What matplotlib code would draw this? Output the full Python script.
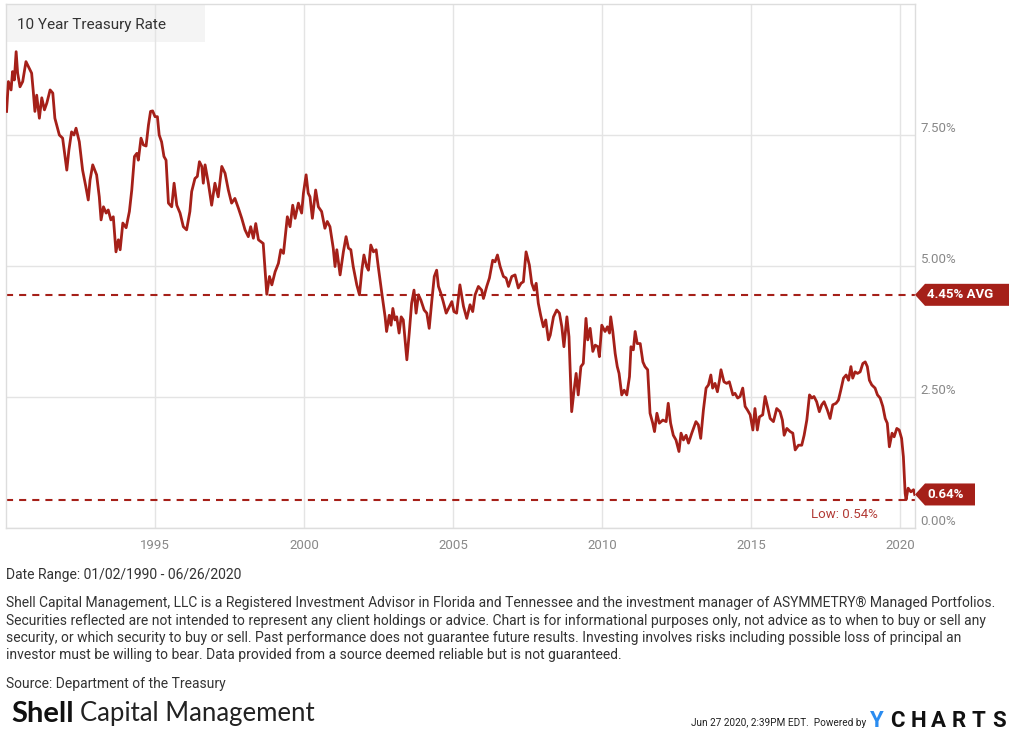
import matplotlib
matplotlib.use("Agg")
import matplotlib.pyplot as plt
import matplotlib.transforms as mtransforms
from matplotlib.patches import Polygon, Rectangle

# 10 year treasury rate (decimal year offset from 1990, percent)
year_offset = [
    0.02, 0.08, 0.17, 0.22, 0.28, 0.34, 0.39, 0.47, 0.56, 0.67, 0.78, 0.86, 0.92, 0.97,
    1.03, 1.12, 1.20, 1.29, 1.37, 1.48, 1.57, 1.64, 1.79, 1.90, 2.04, 2.11, 2.20, 2.28,
    2.35, 2.46, 2.57, 2.68, 2.76, 2.82, 2.91, 3.04, 3.13, 3.19, 3.27, 3.36, 3.43, 3.52,
    3.60, 3.69, 3.77, 3.83, 3.92, 4.03, 4.14, 4.22, 4.31, 4.39, 4.44, 4.53, 4.61, 4.70,
    4.78, 4.85, 4.92, 5.00, 5.08, 5.14, 5.22, 5.30, 5.37, 5.45, 5.56, 5.64, 5.73, 5.84,
    5.95, 6.06, 6.17, 6.23, 6.34, 6.42, 6.49, 6.57, 6.62, 6.68, 6.79, 6.90, 7.01, 7.12,
    7.24, 7.35, 7.46, 7.57, 7.68, 7.80, 7.91, 8.02, 8.13, 8.21, 8.30, 8.38, 8.47, 8.63,
    8.75, 8.84, 8.92, 9.03, 9.14, 9.22, 9.31, 9.44, 9.53, 9.62, 9.70, 9.81, 9.92, 9.98,
    10.07, 10.14, 10.20, 10.28, 10.39, 10.48, 10.59, 10.70, 10.78, 10.87, 10.98, 11.04,
    11.10, 11.21, 11.32, 11.41, 11.49, 11.57, 11.65, 11.77, 11.86, 11.94, 12.01, 12.10,
    12.16, 12.24, 12.33, 12.42, 12.49, 12.61, 12.72, 12.77, 12.86, 12.92, 12.98, 13.05,
    13.11, 13.19, 13.26, 13.33, 13.45, 13.53, 13.61, 13.69, 13.76, 13.84, 13.92, 14.03,
    14.12, 14.20, 14.29, 14.37, 14.45, 14.51, 14.59, 14.67, 14.77, 14.88, 14.96, 15.03,
    15.12, 15.23, 15.35, 15.46, 15.57, 15.66, 15.74, 15.85, 15.96, 16.02, 16.13, 16.22,
    16.33, 16.41, 16.49, 16.58, 16.69, 16.78, 16.86, 16.97, 17.08, 17.19, 17.28, 17.36,
    17.45, 17.56, 17.64, 17.72, 17.79, 17.86, 17.94, 18.03, 18.11, 18.20, 18.26, 18.37,
    18.48, 18.57, 18.65, 18.72, 18.82, 18.89, 18.98, 19.06, 19.13, 19.20, 19.29, 19.37,
    19.46, 19.52, 19.60, 19.69, 19.77, 19.86, 19.91, 19.99, 20.10, 20.18, 20.25, 20.29,
    20.36, 20.44, 20.51, 20.57, 20.66, 20.74, 20.83, 20.92, 20.97, 21.05, 21.11, 21.18,
    21.28, 21.37, 21.44, 21.53, 21.61, 21.70, 21.76, 21.84, 21.92, 22.04, 22.15, 22.22,
    22.30, 22.39, 22.48, 22.58, 22.65, 22.73, 22.82, 22.90, 23.01, 23.15, 23.23, 23.31,
    23.40, 23.49, 23.57, 23.65, 23.71, 23.79, 23.87, 23.94, 23.99, 24.09, 24.18, 24.27,
    24.39, 24.46, 24.55, 24.63, 24.72, 24.80, 24.88, 24.97, 25.06, 25.13, 25.21, 25.28,
    25.39, 25.47, 25.55, 25.64, 25.75, 25.86, 25.97, 26.05, 26.11, 26.20, 26.31, 26.40,
    26.48, 26.59, 26.70, 26.78, 26.87, 26.96, 27.04, 27.11, 27.20, 27.29, 27.37, 27.45,
    27.56, 27.65, 27.74, 27.85, 27.93, 28.01, 28.10, 28.19, 28.27, 28.35, 28.41, 28.49,
    28.57, 28.66, 28.75, 28.83, 28.90, 28.97, 29.05, 29.16, 29.24, 29.33, 29.42, 29.50,
    29.57, 29.64, 29.73, 29.80, 29.89, 29.97, 30.05, 30.11, 30.17, 30.20, 30.27, 30.36,
    30.45, 30.49,
]
rate = [
    7.95, 8.52, 8.36, 8.71, 8.55, 9.09, 8.68, 8.42, 8.52, 8.90, 8.77, 8.68, 8.30, 7.95,
    8.26, 7.82, 8.21, 7.98, 8.11, 8.36, 8.30, 7.82, 7.50, 7.44, 6.83, 7.21, 7.56, 7.50,
    7.63, 7.37, 6.83, 6.51, 6.26, 6.64, 6.93, 6.74, 6.32, 5.88, 6.13, 6.01, 6.07, 5.88,
    5.94, 5.27, 5.50, 5.31, 5.82, 5.73, 6.04, 6.45, 7.09, 7.15, 7.02, 7.44, 7.31, 7.29,
    7.69, 7.95, 7.96, 7.85, 7.85, 7.50, 7.37, 7.09, 7.02, 6.20, 6.13, 6.58, 6.16, 6.01,
    5.75, 5.69, 6.04, 6.42, 6.67, 6.71, 6.99, 6.90, 6.58, 6.93, 6.58, 6.16, 6.58, 6.32,
    6.90, 6.77, 6.45, 6.20, 6.29, 6.10, 5.91, 5.69, 5.56, 5.75, 5.53, 5.81, 5.50, 5.43,
    4.46, 4.80, 4.64, 4.89, 5.05, 5.31, 5.24, 5.94, 5.75, 6.16, 5.91, 6.20, 6.01, 6.39,
    6.74, 6.39, 6.32, 5.91, 6.45, 6.13, 6.04, 5.72, 5.85, 5.75, 5.34, 4.99,
    5.31, 4.83, 5.27, 5.56, 5.34, 5.31, 4.99, 4.64, 4.45, 4.92, 5.21, 4.99,
    4.92, 5.40, 5.27, 5.31, 4.99, 4.48, 4.03, 3.75, 4.06, 3.87, 4.19, 3.97,
    4.03, 3.72, 4.03, 3.97, 3.21, 3.72, 4.29, 4.54, 4.10, 4.45, 4.35, 4.16,
    4.10, 3.81, 4.35, 4.80, 4.92, 4.61, 4.48, 4.32, 4.10, 4.23, 4.32, 4.13,
    4.10, 4.64, 4.23, 4.00, 4.26, 4.13, 4.45, 4.61, 4.54, 4.38, 4.61, 4.77,
    5.11, 5.08, 5.21, 4.99, 4.80, 4.77, 4.61, 4.80, 4.83, 4.58, 4.67, 4.70,
    5.27, 5.02, 4.67, 4.54, 4.67, 4.29, 4.06, 3.84, 3.97, 3.59, 3.68, 4.03,
    4.16, 4.10, 3.84, 3.46, 4.03, 3.65, 2.22, 2.63, 2.95, 2.54, 3.08, 3.14,
    4.00, 3.59, 3.81, 3.37, 3.49, 3.46, 3.27, 3.87, 3.75, 3.84, 3.72, 4.03,
    3.75, 3.33, 3.08, 2.95, 2.54, 2.63, 2.54, 2.89, 3.46, 3.40, 3.75, 3.52,
    3.52, 3.17, 3.08, 3.02, 2.19, 2.00, 1.84, 2.19, 2.00, 2.06, 2.03, 2.38,
    2.00, 1.77, 1.68, 1.46, 1.81, 1.68, 1.77, 1.62, 1.81, 2.03, 1.97, 1.71,
    2.25, 2.67, 2.73, 2.92, 2.67, 2.76, 2.60, 2.82, 3.02, 2.79, 2.76, 2.79,
    2.54, 2.57, 2.48, 2.51, 2.67, 2.32, 2.25, 2.16, 1.87, 2.28, 1.87, 2.12,
    2.16, 2.51, 2.32, 2.09, 2.03, 2.28, 2.22, 2.06, 1.77, 1.90, 1.84, 1.81,
    1.49, 1.58, 1.58, 1.77, 2.06, 2.54, 2.48, 2.51, 2.41, 2.22, 2.35, 2.41,
    2.25, 2.09, 2.35, 2.38, 2.44, 2.63, 2.86, 2.92, 2.82, 3.08, 2.86, 2.98,
    2.95, 2.98, 3.14, 3.17, 3.08, 2.82, 2.73, 2.67, 2.54, 2.48, 2.32, 2.09,
    2.00, 1.55, 1.81, 1.74, 1.90, 1.87, 1.71, 1.36, 0.66, 0.54, 0.76, 0.69,
    0.73, 0.64,
]
years = [1990 + d for d in year_offset]

avg_rate = 4.45
low_rate = 0.54
last_rate = 0.64
y_ticks = [0, 2.5, 5, 7.5]
x_ticks = [1995, 2000, 2005, 2010, 2015, 2020]

title = "10 Year Treasury Rate"
date_range = "Date Range: 01/02/1990 - 06/26/2020"
disclaimer = [
    "Shell Capital Management, LLC is a Registered Investment Advisor in Florida and Tennessee and the investment manager of ASYMMETRY\u00ae Managed Portfolios.",
    "Securities reflected are not intended to represent any client holdings or advice. Chart is for informational purposes only, not advice as to when to buy or sell any",
    "security, or which security to buy or sell. Past performance does not guarantee future results. Investing involves risks including possible loss of principal an",
    "investor must be willing to bear. Data provided from a source deemed reliable but is not guaranteed.",
]
source = "Source: Department of the Treasury"
stamp = "Jun 27 2020, 2:39PM EDT.  Powered by"

RED = "#a52019"
GRID = "#e4e4e4"
W, H = 1023, 738

plt.rcParams["font.family"] = ["Roboto", "DejaVu Sans"]

fig = plt.figure(figsize=(W / 100, H / 100), dpi=100)
ax = fig.add_axes([6 / W, 1 - 528 / H, 909 / W, 524 / H])

ax.plot(years, rate, color=RED, lw=2.0, solid_joinstyle="round", zorder=3)
ax.axhline(avg_rate, color=RED, lw=1.5, ls=(0, (3.4, 2.9)), zorder=2)
ax.axhline(low_rate, color=RED, lw=1.5, ls=(0, (3.4, 2.9)), zorder=2)

ax.set_xlim(1990, 2020.5)
ax.set_ylim(0, 10)
ax.set_xticks(x_ticks)
ax.set_xticklabels([str(y) for y in x_ticks])
ax.set_yticks(y_ticks)
ax.set_yticklabels(["%.2f%%" % v for v in y_ticks])
ax.yaxis.tick_right()
ax.tick_params(axis="both", length=0, colors="#888888", labelsize=9.5)
ax.tick_params(axis="x", pad=8)
ax.tick_params(axis="y", pad=4)
ax.grid(True, color=GRID, lw=1)
ax.set_axisbelow(True)
for s in ax.spines.values():
    s.set_color("#dddddd")
    s.set_linewidth(1)

# y labels sit a little above their grid lines
shift = mtransforms.ScaledTranslation(0, 0.08, fig.dpi_scale_trans)
for lab in ax.get_yticklabels():
    lab.set_transform(lab.get_transform() + shift)

# title box
ax.add_patch(Rectangle((0, 1 - 38 / 524), 199 / 909, 38 / 524, transform=ax.transAxes,
                       facecolor="#f4f4f4", edgecolor="none", zorder=0.5))
ax.text(11 / 909, 1 - 21 / 524, title, transform=ax.transAxes, fontsize=11,
        color="#333333", va="center", ha="left", zorder=4)

# flag labels on the right
blend = mtransforms.blended_transform_factory(ax.transAxes, ax.transData)
px_x = 1 / 909
px_y = 10 / 524


def flag(value, text, width):
    h = 11 * px_y
    pts = [(1, value), (1 + 10 * px_x, value + h), (1 + width * px_x, value + h),
           (1 + width * px_x, value - h), (1 + 10 * px_x, value - h)]
    ax.add_patch(Polygon(pts, closed=True, transform=blend, facecolor=RED,
                         edgecolor="none", clip_on=False, zorder=5))
    ax.text(1 + 12 * px_x, value, text, transform=blend, color="white",
            fontsize=9.5, fontweight="bold", va="center", ha="left", zorder=6)


flag(avg_rate, "4.45% AVG", 94)
flag(last_rate, "%.2f%%" % last_rate, 60)

ax.text(872 / 909, low_rate - 15 * px_y, "Low: %.2f%%" % low_rate, transform=blend,
        color="#b23a35", fontsize=9.5, ha="right", va="center")

# footer
def fy(y):
    return 1 - y / H


fig.text(6 / W, fy(575), date_range, fontsize=10, color="#333333", va="center")
for i, line in enumerate(disclaimer):
    fig.text(6 / W, fy(603 + i * 17.5), line, fontsize=10, color="#333333", va="center")
fig.text(6 / W, fy(684), source, fontsize=10, color="#333333", va="center")

fig.text(11 / W, fy(714), "Shell", fontsize=21, fontweight="bold", color="#111111",
         va="center", family=["Lato", "DejaVu Sans"])
fig.text(80 / W, fy(714), "Capital Management", fontsize=18.5, color="#222222",
         va="center", family=["Lato", "DejaVu Sans"])

fig.text(866 / W, fy(723), stamp, fontsize=7.2, color="#222222", va="center", ha="right")
fig.text(870 / W, fy(721), "Y", fontsize=16, fontweight="bold", color="#2a8cf0",
         va="center", ha="left")
for i, ch in enumerate("CHARTS"):
    fig.text((890 + i * 20.5) / W, fy(721), ch, fontsize=16, fontweight="bold",
             color="#111111", va="center", ha="left")

fig.savefig("out.png", dpi=100)
